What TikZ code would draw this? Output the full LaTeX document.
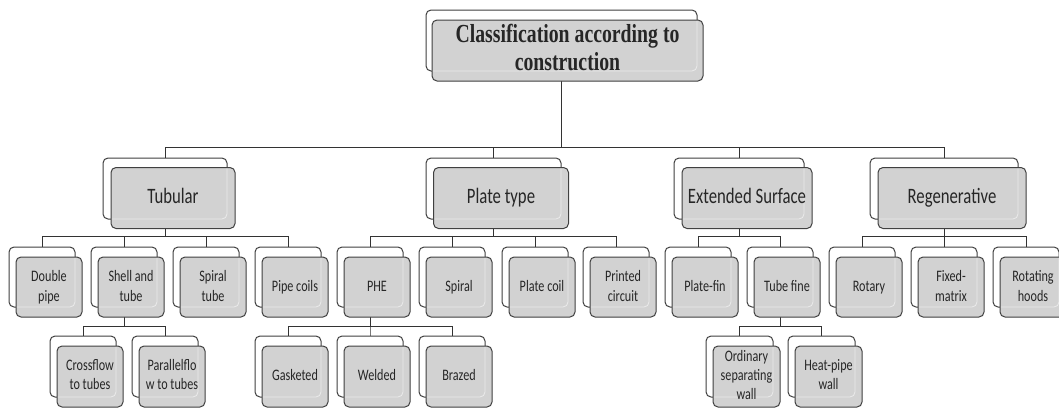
\documentclass[tikz,border=0pt]{standalone}
\usepackage{fontspec}
\setmainfont{Carlito}
\newfontfamily\titlefont{Liberation Serif}
\usepackage{graphicx}
\pgfdeclarelayer{backl}
\pgfdeclarelayer{connl}
\pgfsetlayers{backl,connl,main}
\newcommand{\sqtext}[3]{{\fontsize{#1}{#2}\selectfont\scalebox{0.76}[1]{\begin{tabular}{@{}c@{}}#3\end{tabular}}}}
\newcommand{\lone}[1]{\sqtext{22}{26}{#1}}
\newcommand{\ltwo}[1]{\sqtext{16}{20}{#1}}
\newcommand{\lthr}[1]{\sqtext{16}{19}{#1}}
\newcommand{\ttltext}[1]{{\titlefont\bfseries\fontsize{26}{28}\selectfont\scalebox{0.76}[1]{\begin{tabular}{@{}c@{}}#1\end{tabular}}}}
% #1 name, #2 x, #3 y, #4 width, #5 height, #6 dx, #7 dy, #8 text
\newcommand{\twobox}[8]{%
  \begin{pgfonlayer}{backl}
    \node[backbox, minimum width=#4pt, minimum height=#5pt] (#1) at (#2,#3) {};
  \end{pgfonlayer}
  \node[frontbox, minimum width=#4pt, minimum height=#5pt,
        path picture={\draw[white, draw opacity=0.55, line width=0.8pt, rounded corners=5pt]
          ([shift={(-#6pt,#7pt)}]path picture bounding box.south west) rectangle
          ([shift={(-#6pt,#7pt)}]path picture bounding box.north east);}]
    (#1f) at ([shift={(#6,#7)}]#1.center) {#8};
}
\tikzset{
  backbox/.style={draw=black!75, fill=white, rounded corners=5pt, line width=1pt, inner sep=0pt},
  frontbox/.style={draw=black!75, fill=gray!35, rounded corners=5pt, line width=1pt, inner sep=0pt, text=black!85},
  conn/.style={draw=black!80, line width=0.9pt}
}
\begin{document}
\begin{tikzpicture}[x=1pt, y=-1pt]
\useasboundingbox (0,0) rectangle (1059,407);
\begin{pgfonlayer}{backl}
  \fill[white] (0,0) rectangle (1059,407);
\end{pgfonlayer}
% title
\twobox{title}{561.5}{40.5}{271}{61}{6}{10}{\ttltext{Classification according to\\construction}}
% level 1
\twobox{tub}{165}{188.5}{124}{61}{8}{9.5}{\lone{Tubular}}
\twobox{pla}{493.5}{188.5}{135}{61}{7.5}{9.5}{\lone{Plate type}}
\twobox{ext}{739}{188.5}{130}{61}{8}{9.5}{\lone{Extended Surface}}
\twobox{reg}{944}{188.5}{148}{61}{8}{9.5}{\lone{Regenerative}}
% level 2
\twobox{dp}{42}{277}{66}{60}{7}{10}{\ltwo{Double\\pipe}}
\twobox{st}{124}{277}{66}{60}{7}{10}{\ltwo{Shell and\\tube}}
\twobox{sp}{206}{277}{66}{60}{7}{10}{\ltwo{Spiral\\tube}}
\twobox{pc}{288}{277}{66}{60}{7}{10}{\ltwo{Pipe coils}}
\twobox{phe}{370}{277}{66}{60}{7}{10}{\ltwo{PHE}}
\twobox{spi}{452}{277}{66}{60}{7}{10}{\ltwo{Spiral}}
\twobox{plc}{535}{277}{66}{60}{7}{10}{\ltwo{Plate coil}}
\twobox{prc}{616}{277}{66}{60}{7}{10}{\ltwo{Printed\\circuit}}
\twobox{pfn}{698}{277}{66}{60}{7}{10}{\ltwo{Plate-fin}}
\twobox{tfn}{780}{277}{66}{60}{7}{10}{\ltwo{Tube fine}}
\twobox{rot}{862}{277}{66}{60}{7}{10}{\ltwo{Rotary}}
\twobox{fxm}{944}{277}{66}{60}{7}{10}{\ltwo{Fixed-\\matrix}}
\twobox{rth}{1026}{277}{66}{60}{7}{10}{\ltwo{Rotating\\hoods}}
% level 3
\twobox{cft}{83}{366.5}{66}{61}{7}{10}{\lthr{Crossflow\\to tubes}}
\twobox{pft}{165}{366.5}{66}{61}{7}{10}{\lthr{Parallelflo\\w to tubes}}
\twobox{gas}{288}{366.5}{66}{61}{7}{10}{\lthr{Gasketed}}
\twobox{wel}{370}{366.5}{66}{61}{7}{10}{\lthr{Welded}}
\twobox{bra}{452}{366.5}{66}{61}{7}{10}{\lthr{Brazed}}
\twobox{osw}{739.5}{366.5}{67}{61}{7}{10}{\lthr{Ordinary\\separating\\wall}}
\twobox{hpw}{821.5}{366.5}{67}{61}{7}{10}{\lthr{Heat-pipe\\wall}}
% connectors
\begin{pgfonlayer}{connl}
  \foreach \c in {tub,pla,ext,reg} \draw[conn] (\c.north) -- ++(0,-10) -| (title.south);
  \foreach \c in {dp,st,sp,pc} \draw[conn] (\c.north) -- ++(0,-10) -| (tub.south);
  \foreach \c in {phe,spi,plc,prc} \draw[conn] (\c.north) -- ++(0,-10) -| (pla.south);
  \foreach \c in {pfn,tfn} \draw[conn] (\c.north) -- ++(0,-10) -| (ext.south);
  \foreach \c in {rot,fxm,rth} \draw[conn] (\c.north) -- ++(0,-10) -| (reg.south);
  \foreach \c in {cft,pft} \draw[conn] (\c.north) -- ++(0,-9) -| (st.south);
  \foreach \c in {gas,wel,bra} \draw[conn] (\c.north) -- ++(0,-9) -| (phe.south);
  \foreach \c in {osw,hpw} \draw[conn] (\c.north) -- ++(0,-9) -| (tfn.south);
\end{pgfonlayer}
\end{tikzpicture}
\end{document}
